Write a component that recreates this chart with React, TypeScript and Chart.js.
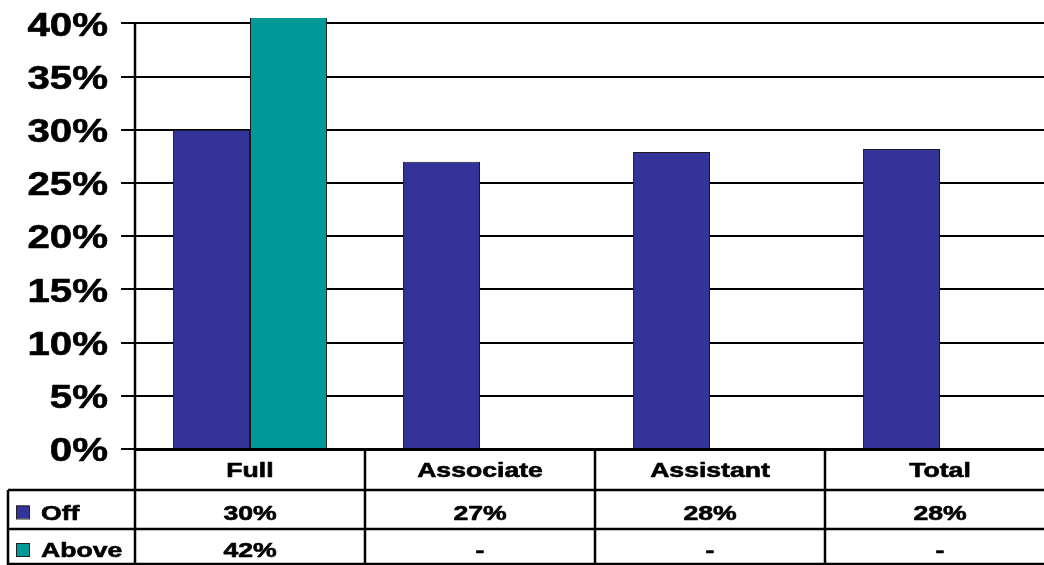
import React, { useEffect, useRef } from "react";
import { Chart, registerables } from "chart.js";
Chart.register(...registerables);

const categories = ["Full", "Associate", "Assistant", "Total"];
const seriesNames = ["Off", "Above"];
const offValues: (number | null)[] = [30, 27, 27.9, 28.2];
const aboveValues: (number | null)[] = [42, null, null, null];
const seriesColors = ["#333399", "#009999"];
const yTickValues = [0, 5, 10, 15, 20, 25, 30, 35, 40];
const yMin = 0;
const yMax = 40.5;

const FONT = "'Liberation Sans', Arial, Helvetica, sans-serif";

function stretchedText(
  ctx: CanvasRenderingContext2D,
  text: string,
  x: number,
  yCenter: number,
  size: number,
  sx: number,
  align: CanvasTextAlign
) {
  ctx.save();
  ctx.font = `bold ${size}px ${FONT}`;
  ctx.textAlign = align;
  ctx.textBaseline = "alphabetic";
  ctx.translate(x, yCenter + size * 0.358);
  ctx.scale(sx, 1);
  ctx.fillStyle = "#000";
  ctx.strokeStyle = "#000";
  ctx.lineWidth = 0.6;
  ctx.lineJoin = "round";
  ctx.fillText(text, 0, 0);
  ctx.strokeText(text, 0, 0);
  ctx.restore();
}

const tablePlugin = {
  id: "dataTable",
  afterDraw(chart: any) {
    const ctx: CanvasRenderingContext2D = chart.ctx;
    const xs = chart.scales.x;
    const ys = chart.scales.y;
    const area = chart.chartArea;
    const W = chart.width;
    const H = chart.height;
    ctx.save();

    // y tick labels
    ys.ticks.forEach((t: any) => {
      const py = ys.getPixelForValue(t.value);
      stretchedText(ctx, `${t.value}%`, 108, py + 0.5, 33, 1.22, "right");
    });

    // y axis line from top tick down through the table
    const topTick = ys.getPixelForValue(yTickValues[yTickValues.length - 1]);
    ctx.strokeStyle = "#000";
    ctx.lineWidth = 2.5;
    ctx.beginPath();
    ctx.moveTo(area.left, topTick - 1);
    ctx.lineTo(area.left, H);
    ctx.stroke();

    // table geometry
    const headTop = area.bottom;
    const row1Top = headTop + 41;
    const row2Top = row1Top + 39;
    const bottom = H - 1;
    const legendLeft = 8;

    ctx.beginPath();
    const n = categories.length;
    for (let i = 0; i < n; i++) {
      const c = xs.getPixelForValue(i);
      const next = i < n - 1 ? xs.getPixelForValue(i + 1) : c + (c - xs.getPixelForValue(i - 1));
      const b = (c + next) / 2;
      ctx.moveTo(b, headTop);
      ctx.lineTo(b, H);
    }
    ctx.moveTo(legendLeft, row1Top);
    ctx.lineTo(W, row1Top);
    ctx.moveTo(legendLeft, row2Top);
    ctx.lineTo(W, row2Top);
    ctx.moveTo(legendLeft, bottom);
    ctx.lineTo(W, bottom);
    ctx.moveTo(legendLeft, row1Top);
    ctx.lineTo(legendLeft, H);
    ctx.stroke();

    const headC = (headTop + row1Top) / 2 + 0.5;
    const r1C = (row1Top + row2Top) / 2 + 3;
    const r2C = (row2Top + H) / 2 + 3;
    categories.forEach((cat, i) => {
      stretchedText(ctx, cat, xs.getPixelForValue(i), headC, 20, 1.33, "center");
    });

    const rows = [offValues, aboveValues];
    const centers = [r1C, r2C];
    rows.forEach((vals, r) => {
      vals.forEach((v, i) => {
        const txt = v == null ? "-" : `${Math.round(v)}%`;
        stretchedText(ctx, txt, xs.getPixelForValue(i), centers[r], 20, 1.33, "center");
      });
      ctx.fillStyle = seriesColors[r];
      ctx.fillRect(16, centers[r] - 7, 13, 13);
      ctx.strokeStyle = "#222";
      ctx.lineWidth = 1;
      ctx.strokeRect(16.5, centers[r] - 6.5, 13, 13);
      stretchedText(ctx, seriesNames[r], 41, centers[r], 20, 1.33, "left");
    });

    ctx.restore();
  },
};

export default function App() {
  const ref = useRef<HTMLCanvasElement>(null);
  useEffect(() => {
    if (!ref.current) return;
    const chart = new Chart(ref.current, {
      type: "bar",
      data: {
        labels: categories,
        datasets: [
          {
            label: seriesNames[0],
            data: offValues,
            backgroundColor: seriesColors[0],
            borderColor: "#1a1a1a",
            borderWidth: 1,
            barPercentage: 1,
            categoryPercentage: 0.67,
          },
          {
            label: seriesNames[1],
            data: aboveValues,
            backgroundColor: seriesColors[1],
            borderColor: "#1a1a1a",
            borderWidth: 1,
            barPercentage: 1,
            categoryPercentage: 0.67,
          },
        ],
      },
      options: {
        responsive: false,
        animation: false,
        devicePixelRatio: 1,
        layout: { padding: { top: 18, right: 5, left: 0, bottom: 0 } },
        plugins: { legend: { display: false }, tooltip: { enabled: false } },
        scales: {
          x: {
            grid: { display: false },
            ticks: { display: false },
            border: { display: true, color: "#000", width: 3 },
            afterFit: (s: any) => {
              s.height = 116;
            },
          },
          y: {
            min: yMin,
            max: yMax,
            ticks: { display: false, stepSize: 5 },
            afterBuildTicks: (s: any) => {
              s.ticks = yTickValues.map((v) => ({ value: v }));
            },
            grid: { color: "#000", lineWidth: 2, tickLength: 14, drawTicks: true },
            border: { display: false },
            afterFit: (s: any) => {
              s.width = 135;
            },
          },
        },
      },
      plugins: [tablePlugin],
    });
    return () => chart.destroy();
  }, []);
  return (
    <div
      style={{
        position: "fixed",
        left: 0,
        top: 0,
        width: 1044,
        height: 565,
        overflow: "hidden",
        background: "#fff",
      }}
    >
      <canvas ref={ref} width={1060} height={565} style={{ display: "block", width: 1060, height: 565 }} />
    </div>
  );
}
